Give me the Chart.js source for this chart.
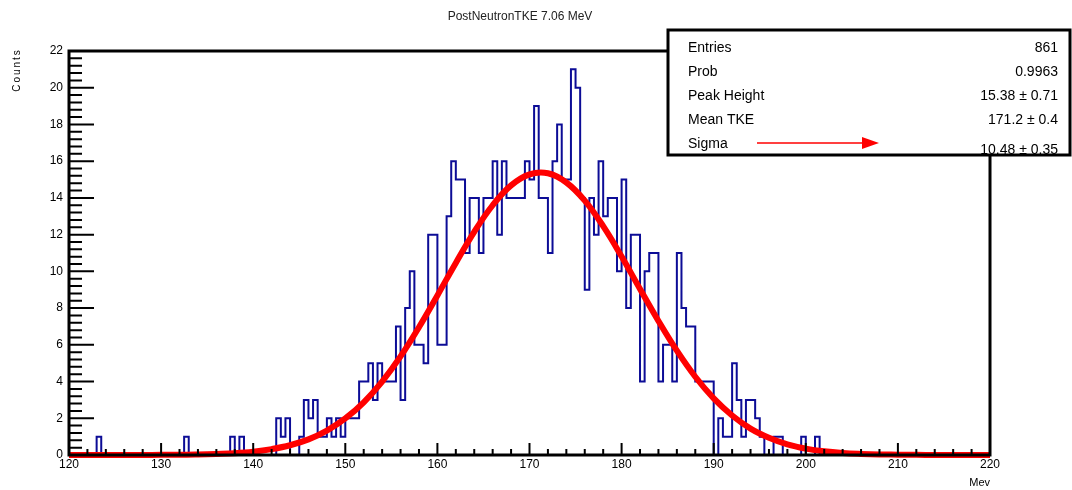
<!DOCTYPE html>
<html>
<head>
<meta charset="utf-8">
<title>PostNeutronTKE 7.06 MeV</title>
<script src="https://cdn.jsdelivr.net/npm/chart.js@4.4.1/dist/chart.umd.min.js"></script>
<style>
  html, body { margin: 0; padding: 0; background: #fff; }
  #wrap { width: 1072px; height: 490px; }
</style>
</head>
<body>
<div id="wrap"><canvas id="tke" width="1072" height="490"></canvas></div>
<script>
const chartTitle = 'PostNeutronTKE 7.06 MeV';
const xTitle = 'Mev';
const yTitle = 'Counts';

// histogram, 0.5 MeV bins from 120 to 220
const binStart = 120;
const binWidth = 0.5;
const counts = [
  0, 0, 0, 0, 0, 0, 1, 0, 0, 0,   0, 0, 0, 0, 0, 0, 0, 0, 0, 0,   // 120-130
  0, 0, 0, 0, 0, 1, 0, 0, 0, 0,   0, 0, 0, 0, 0, 1, 0, 1, 0, 0,   // 130-140
  0, 0, 0, 0, 0, 2, 1, 2, 0, 0,   1, 3, 2, 3, 1, 1, 2, 1, 2, 1,   // 140-150
  2, 2, 2, 4, 4, 5, 3, 5, 4, 4,   4, 7, 3, 8, 10, 6, 6, 5, 12, 12, // 150-160
  6, 6, 13, 16, 15, 15, 11, 14, 14, 11,  14, 14, 16, 12, 16, 14, 14, 14, 14, 16, // 160-170
  15, 19, 14, 14, 11, 16, 18, 15, 15, 21,  20, 14, 9, 14, 12, 16, 13, 14, 14, 10, // 170-180
  15, 8, 12, 12, 4, 10, 11, 11, 4, 6,   6, 4, 11, 8, 7, 7, 4, 4, 4, 4,  // 180-190
  0, 2, 1, 1, 5, 3, 1, 3, 3, 2,   1, 0, 0, 1, 1, 0, 0, 0, 0, 1,   // 190-200
  0, 0, 1, 0, 0, 0, 0, 0, 0, 0,   0, 0, 0, 0, 0, 0, 0, 0, 0, 0,   // 200-210
  0, 0, 0, 0, 0, 0, 0, 0, 0, 0,   0, 0, 0, 0, 0, 0, 0, 0, 0, 0    // 210-220
];

// red fit curve, read every 2 MeV
const fitX = [120, 122, 124, 126, 128, 130, 132, 134, 136, 138,
              140, 142, 144, 146, 148, 150, 152, 154, 156, 158,
              160, 162, 164, 166, 168, 170, 172, 174, 176, 178,
              180, 182, 184, 186, 188, 190, 192, 194, 196, 198,
              200, 202, 204, 206, 208, 210, 212, 214, 216, 218, 220];
const fitY = [0, 0, 0, 0, 0, 0.01, 0.01, 0.03, 0.06, 0.1,
              0.18, 0.32, 0.53, 0.85, 1.33, 1.99, 2.87, 4.0, 5.37, 6.96,
              8.69, 10.46, 12.15, 13.6, 14.68, 15.28, 15.34, 14.84, 13.85, 12.46,
              10.81, 9.04, 7.3, 5.68, 4.26, 3.08, 2.15, 1.44, 0.94, 0.58,
              0.35, 0.2, 0.11, 0.06, 0.03, 0.02, 0.01, 0, 0, 0, 0];

const statsLabels = ['Entries', 'Prob', 'Peak Height', 'Mean TKE', 'Sigma'];
const statsValues = ['861', '0.9963', '15.38 \u00b1 0.71', '171.2 \u00b1 0.4', '10.48 \u00b1 0.35'];

const xMin = 120, xMax = 220, xMajor = 10, xMinor = 2;
const yMin = 0, yMax = 22, yMajor = 2, yMinor = 0.4;

const FONT = '"Liberation Sans", Arial, Helvetica, sans-serif';

const histPoints = counts.map((c, i) => ({ x: binStart + i * binWidth, y: c }));
histPoints.push({ x: binStart + counts.length * binWidth, y: 0 });
const fitPoints = fitX.map((x, i) => ({ x: x, y: fitY[i] }));

// ROOT-like frame, inward ticks, stats box, titles
const rootDecor = {
  id: 'rootDecor',
  afterDatasetsDraw(chart) {
    const { ctx, chartArea: a, scales: { x, y } } = chart;
    ctx.save();
    ctx.strokeStyle = '#000';
    ctx.lineWidth = 2;
    ctx.beginPath();
    const nx = Math.round((xMax - xMin) / xMinor);
    for (let i = 0; i <= nx; i++) {
      const px = x.getPixelForValue(xMin + i * xMinor);
      const len = (i % 5 === 0) ? 12 : 6;
      ctx.moveTo(px, a.bottom);
      ctx.lineTo(px, a.bottom - len);
    }
    const ny = Math.round((yMax - yMin) / yMinor);
    for (let i = 0; i <= ny; i++) {
      const py = y.getPixelForValue(yMin + i * yMinor);
      const len = (i % 5 === 0) ? 25 : 13;
      ctx.moveTo(a.left, py);
      ctx.lineTo(a.left + len, py);
    }
    ctx.stroke();

    ctx.lineWidth = 3;
    ctx.strokeRect(a.left, a.top, a.right - a.left, a.bottom - a.top);
    ctx.restore();
  },
  afterDraw(chart) {
    const { ctx } = chart;
    ctx.save();

    // title
    ctx.fillStyle = '#222';
    ctx.font = '12px ' + FONT;
    ctx.textAlign = 'center';
    ctx.textBaseline = 'middle';
    ctx.fillText(chartTitle, 520, 17);

    // y title, rotated, near the top
    ctx.save();
    ctx.translate(17, 70);
    ctx.rotate(-Math.PI / 2);
    ctx.font = '10px ' + FONT;
    ctx.letterSpacing = '2px';
    ctx.fillStyle = '#000';
    ctx.fillText(yTitle, 0, 0);
    ctx.restore();

    // stats box
    const bx = 668, by = 30, bw = 402, bh = 125;
    ctx.fillStyle = '#fff';
    ctx.fillRect(bx, by, bw, bh);
    ctx.fillStyle = '#000';
    ctx.font = '14px ' + FONT;
    ctx.textBaseline = 'middle';
    statsLabels.forEach((lab, i) => {
      const ty = 48 + i * 24;
      ctx.textAlign = 'left';
      ctx.fillText(lab, 688, ty);
      ctx.textAlign = 'right';
      ctx.fillText(statsValues[i], 1058, ty + (i === 4 ? 6 : 0));
    });
    ctx.strokeStyle = '#000';
    ctx.lineWidth = 3;
    ctx.strokeRect(bx, by, bw, bh);

    // red arrow pointing at sigma
    ctx.strokeStyle = '#f00';
    ctx.fillStyle = '#f00';
    ctx.lineWidth = 1.5;
    ctx.beginPath();
    ctx.moveTo(757, 143);
    ctx.lineTo(864, 143);
    ctx.stroke();
    ctx.beginPath();
    ctx.moveTo(879, 143);
    ctx.lineTo(862, 137);
    ctx.lineTo(862, 149);
    ctx.closePath();
    ctx.fill();

    ctx.restore();
  }
};

new Chart(document.getElementById('tke'), {
  type: 'line',
  data: {
    datasets: [
      {
        label: 'fit',
        data: fitPoints,
        borderColor: '#ff0000',
        borderWidth: 6,
        pointRadius: 0,
        tension: 0.4,
        fill: false,
        clip: false,
        order: 0
      },
      {
        label: 'TKE',
        data: histPoints,
        borderColor: '#0c0c96',
        borderWidth: 2,
        pointRadius: 0,
        stepped: 'before',
        fill: false,
        order: 1
      }
    ]
  },
  options: {
    responsive: false,
    animation: false,
    layout: { padding: { top: 51, right: 82, left: 0, bottom: 0 } },
    plugins: {
      legend: { display: false },
      tooltip: { enabled: false },
      title: { display: false }
    },
    scales: {
      x: {
        type: 'linear',
        min: xMin,
        max: xMax,
        grid: { display: false, drawTicks: false },
        border: { display: false },
        afterFit: s => { s.height = 35; },
        ticks: {
          stepSize: xMajor,
          autoSkip: false,
          maxRotation: 0,
          padding: 2,
          color: '#000',
          font: { family: FONT, size: 12 }
        },
        title: {
          display: true,
          text: xTitle,
          align: 'end',
          color: '#000',
          font: { family: FONT, size: 11 },
          padding: { top: 0, bottom: 0 }
        }
      },
      y: {
        min: yMin,
        max: yMax,
        grid: { display: false, drawTicks: false },
        border: { display: false },
        afterFit: s => { s.width = 69; },
        ticks: {
          stepSize: yMajor,
          padding: 6,
          color: '#000',
          font: { family: FONT, size: 12 }
        }
      }
    }
  },
  plugins: [rootDecor]
});
</script>
</body>
</html>
